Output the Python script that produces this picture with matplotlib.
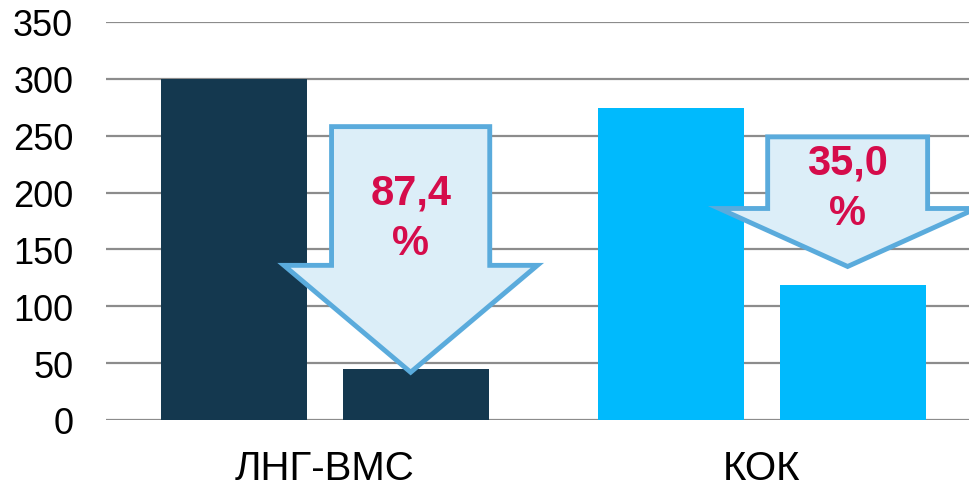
import matplotlib.pyplot as plt
from matplotlib.patches import Polygon

plt.rcParams['font.family'] = ['Liberation Sans', 'DejaVu Sans']

# Данные
categories = ["ЛНГ-ВМС", "КОК"]
before = [300, 274]
after = [45, 119]
bar_colors = ["#14384F", "#00BAFD"]
change_labels = ["87,4\n%", "35,0\n%"]
yticks = [0, 50, 100, 150, 200, 250, 300, 350]

# Стрелки (геометрия выносок)
arrow_top = [258, 249]
arrow_neck = [136, 186]
arrow_tip = [42, 135]
arrow_text_y = [178, 204]
shaft_half = [0.181, 0.183]
head_half = [0.29, 0.294]

bar_w = 0.334
offset = 0.208
arrow_shift = -0.012

fig = plt.figure(figsize=(9.7, 4.89), dpi=100)
ax = fig.add_axes([106.5 / 970, 68 / 489, 1 - 106.5 / 970, 398 / 489])

x = list(range(len(categories)))
for i in x:
    ax.bar(i - offset, before[i], width=bar_w, color=bar_colors[i], zorder=2)
    ax.bar(i + offset, after[i], width=bar_w, color=bar_colors[i], zorder=2)

    cx = i + offset + arrow_shift
    pts = [
        (cx - shaft_half[i], arrow_top[i]),
        (cx + shaft_half[i], arrow_top[i]),
        (cx + shaft_half[i], arrow_neck[i]),
        (cx + head_half[i], arrow_neck[i]),
        (cx, arrow_tip[i]),
        (cx - head_half[i], arrow_neck[i]),
        (cx - shaft_half[i], arrow_neck[i]),
    ]
    ax.add_patch(Polygon(pts, closed=True, facecolor="#DCEEF8", edgecolor="#5AABDC",
                         linewidth=3.5, joinstyle="miter", zorder=3))
    ax.text(cx, arrow_text_y[i], change_labels[i], ha="center", va="center",
            fontsize=30, fontweight="bold", color="#D50C4B", linespacing=1.35, zorder=4)

ax.set_xlim(-0.5, 1.476)
ax.set_ylim(0, 350)
ax.set_yticks(yticks)
ax.set_xticks(x)
ax.set_xticklabels(categories)
ax.tick_params(axis="y", length=0, pad=24, labelsize=26)
ax.tick_params(axis="x", length=0, pad=21, labelsize=29)
ax.grid(axis="y", color="#8C8C8C", linewidth=1.6, zorder=1)
for s in ax.spines.values():
    s.set_visible(False)

fig.savefig("out.png", dpi=100)
